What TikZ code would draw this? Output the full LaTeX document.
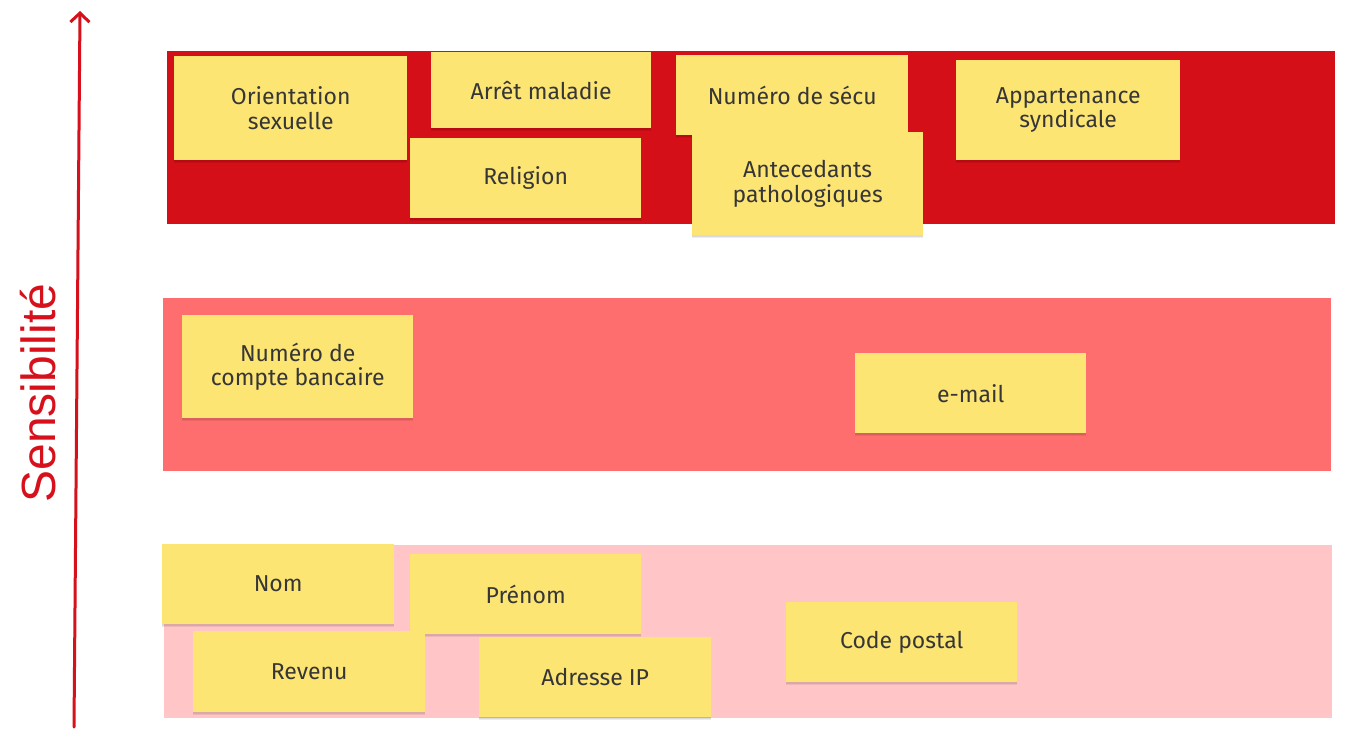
\documentclass[tikz,border=0pt]{standalone}
\usepackage{fontspec}
\setmainfont{Fira Sans}
\newfontfamily\arialfont{Liberation Sans}
\usetikzlibrary{shadows,arrows.meta}
\definecolor{bandA}{HTML}{D50F18}
\definecolor{bandB}{HTML}{FF6E6E}
\definecolor{bandC}{HTML}{FFC5C7}
\definecolor{noteY}{HTML}{FDE574}
\definecolor{noteT}{HTML}{363636}
\definecolor{axisR}{HTML}{D7111C}
\tikzset{
  band/.style={fill=#1, draw=none},
  note/.style={fill=noteY, draw=none, anchor=north west, align=center,
    text=noteT, font=\fontsize{23}{24.5}\selectfont, inner sep=0pt,
    drop shadow={shadow xshift=0pt, shadow yshift=-3pt, opacity=0.07, fill=black},
    drop shadow={shadow xshift=0pt, shadow yshift=-1.5pt, opacity=0.08, fill=black}},
  axis/.style={draw=axisR, line width=3pt, line cap=round, -{Straight Barb[length=9pt,width=19pt,line width=3pt]}},
}
\begin{document}
\begin{tikzpicture}[x=1pt,y=-1pt]
\useasboundingbox (0,0) rectangle (1366,739);
\fill[white] (0,0) rectangle (1366,739);
% bands
\path[band=bandA] (167,51) rectangle (1335,224);
\path[band=bandB] (163,298) rectangle (1331,471);
\path[band=bandC] (164,545) rectangle (1332,718);
% axis
\coordinate (ab) at (74,727);
\coordinate (at) at (80,11);
\draw[axis] (ab) -- (at);
\node[rotate=90, text=axisR, font=\arialfont\fontsize{48}{50}\selectfont] (lab) at (38,393) {Sensibilité};
% notes top band
\node[note, minimum width=233pt, minimum height=104pt] (n1) at (174,56) {Orientation\\sexuelle};
\node[note, minimum width=220pt, minimum height=76pt] (n2) at (431,52) {Arrêt maladie};
\node[note, minimum width=231pt, minimum height=80pt] (n3) at (410,138) {Religion};
\node[note, minimum width=232pt, minimum height=80pt] (n4) at (676,55) {Numéro de sécu};
\node[note, minimum width=231pt, minimum height=103pt] (n5) at (692,132) {Antecedants\\pathologiques};
\node[note, minimum width=224pt, minimum height=100pt] (n6) at (956,60) {Appartenance\\syndicale};
% middle band
\node[note, minimum width=231pt, minimum height=103pt] (n7) at (182,315) {Numéro de\\compte bancaire};
\node[note, minimum width=231pt, minimum height=80pt] (n8) at (855,353) {e-mail};
% bottom band
\node[note, minimum width=232pt, minimum height=80pt] (n9) at (162,544) {Nom};
\node[note, minimum width=231pt, minimum height=80pt] (n10) at (410,554) {Prénom};
\node[note, minimum width=232pt, minimum height=81pt] (n11) at (193,631) {Revenu};
\node[note, minimum width=232pt, minimum height=80pt] (n12) at (479,637) {Adresse IP};
\node[note, minimum width=231pt, minimum height=80pt] (n13) at (786,602) {Code postal};
\end{tikzpicture}
\end{document}
